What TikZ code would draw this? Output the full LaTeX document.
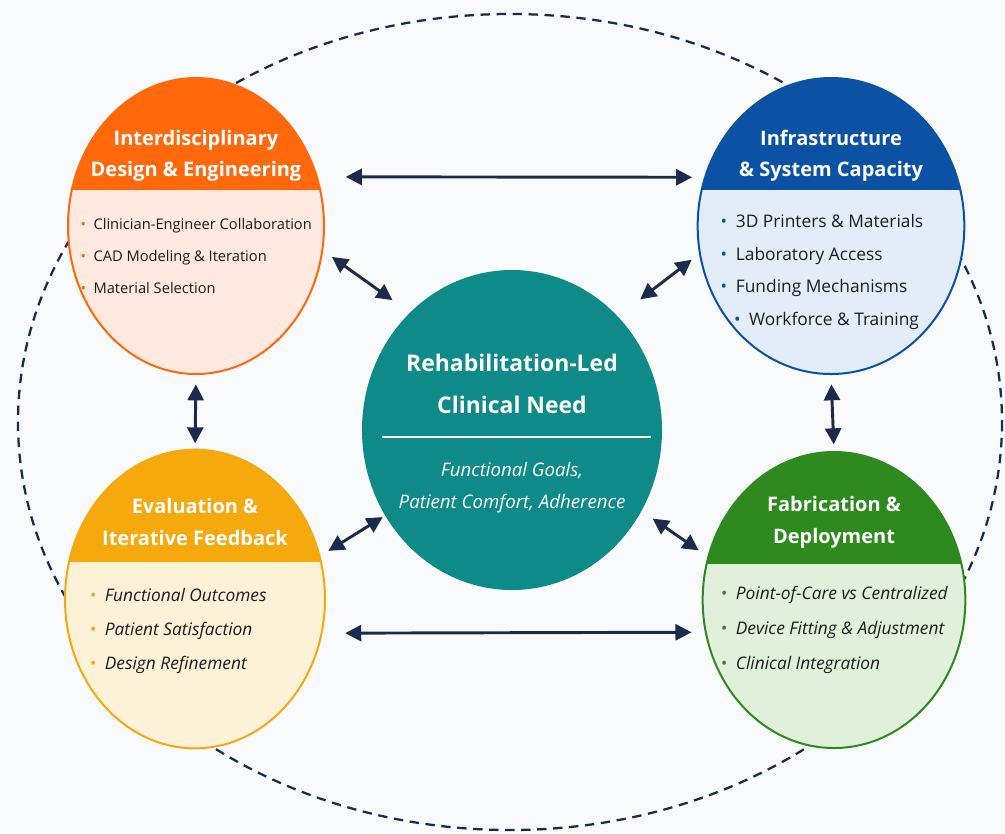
\documentclass[tikz,border=0pt]{standalone}
\usepackage{fontspec}
\setmainfont{Open Sans}
\usetikzlibrary{shapes.geometric,arrows.meta}

\definecolor{navy}{HTML}{1B2B4B}
\definecolor{ink}{HTML}{1C1C1C}
\definecolor{bg}{HTML}{F9FAFB}
\definecolor{dsgnhead}{HTML}{FF690C}
\definecolor{dsgnbody}{HTML}{FDE9DF}
\definecolor{infrahead}{HTML}{0B52A5}
\definecolor{infrabody}{HTML}{E3EDFA}
\definecolor{evalhead}{HTML}{F6A90C}
\definecolor{evalbody}{HTML}{FDF1D8}
\definecolor{fabhead}{HTML}{2E8A1F}
\definecolor{fabbody}{HTML}{E1F0DA}
\definecolor{needfill}{HTML}{0E8B89}

% coloured bullet in front of a list item
\newcommand{\bul}[1]{{\color{#1}\textbullet}\enspace}

\begin{document}
\begin{tikzpicture}[x=0.75pt,y=-0.75pt,
  topic/.style 2 args={ellipse, inner sep=0pt, fill=#2, draw=#1, line width=1.5pt,
    path picture={\fill[#1] (path picture bounding box.north west) rectangle ([yshift=-84pt]path picture bounding box.north east);}},
  headtext/.style={text=white, font=\bfseries\fontsize{15}{23}\selectfont, align=center},
  items/.style={anchor=west, align=left, text=ink, font=\fontsize{11}{24}\selectfont},
  link/.style={navy, line width=2.2pt, >={Triangle[length=12pt,width=12pt]}, <->}]

	\fill[bg] (0,0) rectangle (1005,833);
	\useasboundingbox (0,0) rectangle (1005,833);

	% outer loop
	\draw[navy, line width=1.7pt, dash pattern=on 7pt off 5pt] (510,422) ellipse [x radius=492, y radius=408];

	% the four domains and the hub
	\node[topic={dsgnhead}{dsgnbody}, minimum width=192pt, minimum height=222pt] (design) at (196,226) {};
	\node[topic={infrahead}{infrabody}, minimum width=200pt, minimum height=222pt] (infra) at (831,226) {};
	\node[topic={evalhead}{evalbody}, minimum width=195pt, minimum height=224pt] (eval) at (195,599) {};
	\node[topic={fabhead}{fabbody}, minimum width=197pt, minimum height=222pt] (fab) at (834,600) {};
	\node[ellipse, fill=needfill, inner sep=0pt, minimum width=225pt, minimum height=240pt] (need) at (512,430) {};

	\node[headtext] (designtitle) at (196,156) {Interdisciplinary\\Design \& Engineering};
	\node[headtext] (infratitle) at (831,156) {Infrastructure\\\& System Capacity};
	\node[headtext, font=\bfseries\fontsize{15}{24}\selectfont] (evaltitle) at (195,522) {Evaluation \&\\Iterative Feedback};
	\node[headtext, font=\bfseries\fontsize{15}{24}\selectfont] (fabtitle) at (834,522) {Fabrication \&\\Deployment};

	\node[items] (designlist) at (76,256) {\bul{dsgnhead}Clinician-Engineer Collaboration\\\bul{dsgnhead}CAD Modeling \& Iteration\\\bul{dsgnhead}Material Selection};
	\node[items, font=\fontsize{13}{24.5}\selectfont] (infralist) at (716,272) {\bul{infrahead}3D Printers \& Materials\\\bul{infrahead}Laboratory Access\\\bul{infrahead}Funding Mechanisms\\\hspace*{10pt}\bul{infrahead}Workforce \& Training};
	\node[items, font=\itshape\fontsize{13}{25.5}\selectfont] (evallist) at (85,631) {\bul{evalhead}Functional Outcomes\\\bul{evalhead}Patient Satisfaction\\\bul{evalhead}Design Refinement};
	\node[items, font=\itshape\fontsize{13}{26}\selectfont] (fablist) at (716,630) {\bul{fabhead}Point-of-Care vs Centralized\\\bul{fabhead}Device Fitting \& Adjustment\\\bul{fabhead}Clinical Integration};

	\node[text=white, font=\bfseries\fontsize{17.2}{31}\selectfont, align=center] (needtitle) at (512,384) {Rehabilitation-Led\\Clinical Need};
	\draw[white, line width=1.2pt] (382,437) -- (651,437);
	\node[text=white, font=\itshape\fontsize{14}{24}\selectfont, align=center] (needsub) at (512,488) {Functional Goals,\\Patient Comfort, Adherence};

	% links between the domains
	\draw[link, shorten <=21pt, shorten >=9pt] (design.22) -- (infra.159);
	\draw[link, shorten <=17pt, shorten >=10pt] (eval.-15) -- (fab.194);
	\draw[link, shorten <=7pt, shorten >=4pt] (design.south) -- (eval.north);
	\draw[link, shorten <=7pt, shorten >=5pt] (infra.south) -- (fab.north);
	\draw[link, shorten <=8pt, shorten >=16pt] (design.-11) -- (need.131);
	\draw[link, shorten <=7pt, shorten >=21pt] (infra.192) -- (need.47);
	\draw[link, shorten <=7pt, shorten >=2pt] (eval.19) -- (need.214);
	\draw[link, shorten <=10pt, shorten >=8pt] (need.-32) -- (fab.161);
\end{tikzpicture}
\end{document}
